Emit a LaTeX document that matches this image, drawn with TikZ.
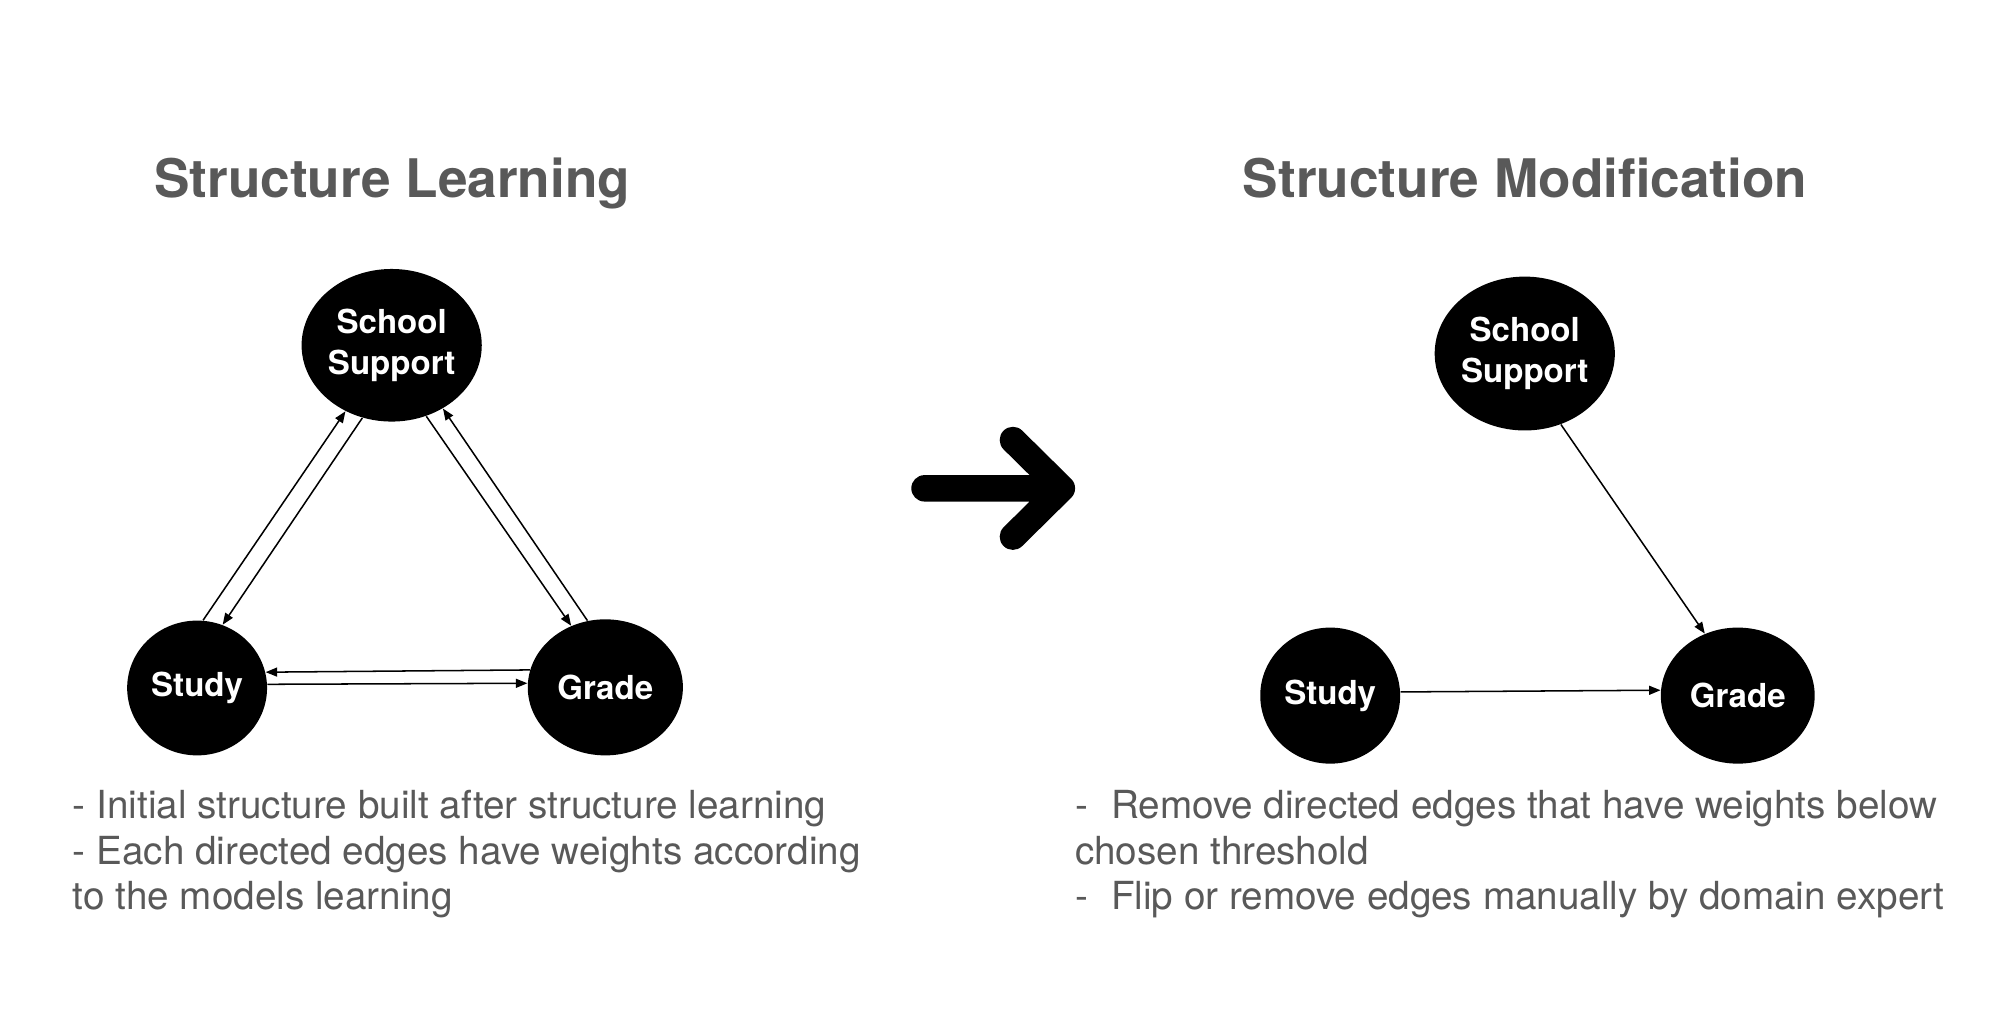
\documentclass[tikz,border=0pt]{standalone}
\usepackage{fontspec}
\setmainfont{TeX Gyre Heros}
\usetikzlibrary{shapes.geometric,arrows.meta}
\definecolor{txtgray}{RGB}{89,89,89}
\begin{document}
\begin{tikzpicture}[x=0.5pt,y=-0.5pt,
  vnode/.style={ellipse,fill=black,text=white,inner sep=0pt,align=center,
    font=\fontsize{13}{16}\selectfont\bfseries},
  edge/.style={line width=0.6pt,-{Triangle[length=4.5pt,width=3.5pt]}},
  titletext/.style={anchor=base west,inner sep=0pt,text=txtgray,
    font=\fontsize{20.9}{25}\selectfont\bfseries},
  bodytext/.style={anchor=base west,inner sep=0pt,text=txtgray,
    font=\fontsize{15.2}{18}\selectfont},
  bigarrow/.style={line width=10.4pt,line cap=round,line join=round}]
\useasboundingbox[fill=white] (0,0) rectangle (1568,803.7);

% titles
\node[titletext] (tL) at (121,155) {Structure Learning};
\node[titletext] (tR) at (977,155) {Structure Modification};

% left graph
\node[vnode,minimum width=69pt,minimum height=60pt] (ssL) at (308,271.5) {School\\Support};
\node[vnode,minimum width=55pt,minimum height=53pt] (stL) at (155,541) {Study};
\node[vnode,minimum width=61pt,minimum height=53.5pt] (grL) at (476,540.5) {Grade};

\draw[edge] (stL.85) -- (ssL.-125);
\draw[edge] (ssL.-112.5) -- (stL.68);
\draw[edge] (ssL.-64) -- (grL.119.5);
\draw[edge] (grL.105) -- (ssL.-51);
\draw[edge] (grL.167.6) -- (stL.13.7);
\draw[edge] (stL.3.1) -- (grL.177.2);

% big arrow
\coordinate (a1) at (727,384);
\coordinate (a2) at (835,384);
\coordinate (a3) at (796.5,346);
\coordinate (a4) at (796.5,422);
\draw[bigarrow] (a1) -- (a2) (a3) -- (a2) -- (a4);

% right graph
\node[vnode,minimum width=69pt,minimum height=60.5pt] (ssR) at (1199,278) {School\\Support};
\node[vnode,minimum width=55pt,minimum height=53.5pt] (stR) at (1046,547) {Study};
\node[vnode,minimum width=60.5pt,minimum height=53.5pt] (grR) at (1366.5,547) {Grade};

\draw[edge] (ssR.-63.8) -- (grR.118.9);
\draw[edge] (stR.3.6) -- (grR.176.7);

% texts
\node[bodytext] (l1) at (57,644) {- Initial structure built after structure learning};
\node[bodytext] (l2) at (57,680) {- Each directed edges have weights according};
\node[bodytext] (l3) at (57,715) {to the models learning};
\node[bodytext] (r1) at (845,644) {-\hspace{0.6em}Remove directed edges that have weights below};
\node[bodytext] (r2) at (845,680) {chosen threshold};
\node[bodytext] (r3) at (845,715) {-\hspace{0.6em}Flip or remove edges manually by domain expert};
\end{tikzpicture}
\end{document}
